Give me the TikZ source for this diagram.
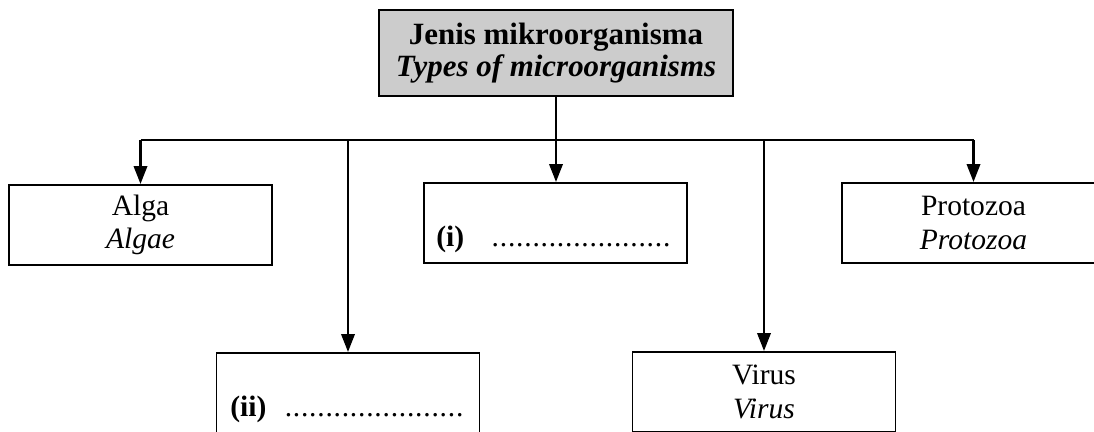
\documentclass[tikz,border=0pt]{standalone}
\usepackage{fontspec}
\setmainfont{Liberation Serif}
\usetikzlibrary{arrows.meta}
\newcommand{\titik}[1]{\makebox[#1][l]{\leaders\hbox to 5.8pt{\hss.\hss}\hfill}}
\tikzset{
  kotak/.style={draw,line width=1.3pt,minimum width=6.575cm,minimum height=2cm,align=center,font=\fontsize{21}{24}\selectfont},
  tajuk/.style={kotak,fill=black!20,minimum width=8.85cm,minimum height=2.15cm,font=\fontsize{22}{23}\selectfont},
  garis/.style={line width=2pt},
  anak/.style={garis,-{Triangle[length=0.45cm,width=0.33cm]}},
  isian/.style={anchor=west,inner sep=0pt,font=\fontsize{21}{24}\selectfont}
}
\begin{document}
\begin{tikzpicture}[x=0.025cm,y=-0.025cm]
    \useasboundingbox (0,0) rectangle (1094,432);
    \clip (0,0) rectangle (1094,432);

    % Tajuk utama
    \node[tajuk] (jenis) at (556,53) {\textbf{Jenis mikroorganisma}\\\textbf{\textit{Types of microorganisms}}};

    % Kotak jenis
    \node[kotak] (alga) at (140.5,225) {Alga\\\textit{Algae}};
    \node[kotak] (satu) at (555.5,223) {};
    \node[kotak] (proto) at (973.5,223) {Protozoa\\\textit{Protozoa}};
    \node[kotak] (dua) at (348,393) {};
    \node[kotak] (virus) at (764,392) {Virus\\\textit{Virus}};

    % Isian kosong
    \node[isian] (isatu) at (436,239) {\textbf{(i)}\hspace{0.68cm}\titik{4.55cm}};
    \node[isian] (idua) at (230,409) {\textbf{(ii)}\hspace{0.45cm}\titik{4.55cm}};

    % Sambungan
    \coordinate (bus) at (556,140);
    \draw[garis] (alga.north |- bus) -- (proto.north |- bus);
    \draw[anak] (jenis.south) -- (jenis.south |- satu.north);
    \foreach \k in {alga,dua,virus,proto}
        \draw[anak] (\k.north |- bus) -- (\k.north);
\end{tikzpicture}
\end{document}
